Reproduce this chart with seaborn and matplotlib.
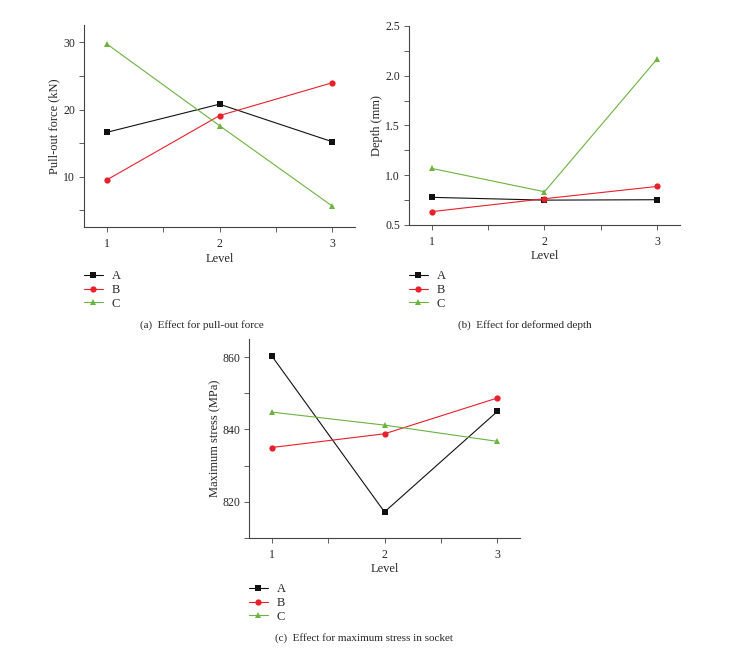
import pandas as pd
import numpy as np
import matplotlib
matplotlib.use('Agg')
import matplotlib.pyplot as plt
from matplotlib.ticker import AutoMinorLocator
import seaborn as sns

# -----------------------------------------------------------------------------
# Données (effet des facteurs A, B, C par niveau)
# -----------------------------------------------------------------------------
levels = [1, 2, 3]
factors = ['A', 'B', 'C']

pull_A = [16.6, 20.8, 15.2]
pull_B = [9.5, 19.1, 24.0]
pull_C = [29.8, 17.6, 5.6]

depth_A = [0.778, 0.750, 0.754]
depth_B = [0.634, 0.764, 0.888]
depth_C = [1.069, 0.834, 2.172]

stress_A = [860.4, 817.2, 845.0]
stress_B = [835.0, 838.8, 848.7]
stress_C = [844.8, 841.2, 836.7]

colors = {'A': '#111111', 'B': '#e8202a', 'C': '#6cb33f'}
markers = {'A': 's', 'B': 'o', 'C': '^'}


def to_long(a, b, c):
    rows = []
    for name, vals in zip(factors, [a, b, c]):
        for lv, v in zip(levels, vals):
            rows.append({'Level': lv, 'value': v, 'factor': name})
    return pd.DataFrame(rows)


sns.set_style('ticks')
plt.rcParams['font.family'] = ['Liberation Serif', 'DejaVu Serif']
plt.rcParams['xtick.direction'] = 'out'
plt.rcParams['ytick.direction'] = 'out'

W, H = 734, 651
fig = plt.figure(figsize=(W / 100, H / 100), dpi=100)


def px_axes(left, top, right, bottom):
    return fig.add_axes([left / W, 1 - bottom / H, (right - left) / W, (bottom - top) / H])


def draw_panel(ax, df, ylim, yticks, ylabel, ylab_x, leg_xy, caption, cap_xy):
    sns.lineplot(data=df, x='Level', y='value', hue='factor', style='factor',
                 palette=colors, markers=markers, dashes=False, ax=ax,
                 linewidth=0.8, markersize=4.5, markeredgewidth=0)
    ax.set_xlim(0.8, 3.2)
    ax.set_ylim(*ylim)
    ax.set_xticks(levels)
    ax.set_yticks(yticks)
    ax.xaxis.set_minor_locator(AutoMinorLocator(2))
    ax.yaxis.set_minor_locator(AutoMinorLocator(2))
    ax.tick_params(which='both', length=3.5, width=0.6, color='#444444',
                   labelsize=8.5, pad=3)
    ax.tick_params(axis='x', pad=4.5)
    for s in ['left', 'bottom']:
        ax.spines[s].set_linewidth(0.8)
        ax.spines[s].set_color('#444444')
    sns.despine(ax=ax)
    ax.set_xlabel('Level', fontsize=9)
    ax.set_ylabel(ylabel, fontsize=9)
    ax.xaxis.set_label_coords(0.5, -0.128)
    ax.yaxis.set_label_coords(ylab_x, 0.5)
    handles, labels = ax.get_legend_handles_labels()
    ax.legend(handles, labels, loc='upper left', frameon=False,
              bbox_to_anchor=(leg_xy[0] / W, 1 - leg_xy[1] / H),
              bbox_transform=fig.transFigure, borderaxespad=0, borderpad=0,
              fontsize=9, handlelength=1.5, handletextpad=0.7, labelspacing=0.15)
    fig.text(cap_xy[0] / W, 1 - cap_xy[1] / H, caption, ha='center', va='center',
             fontsize=8)


ax_a = px_axes(84, 25, 355, 227)
draw_panel(ax_a, to_long(pull_A, pull_B, pull_C), (2.5, 32.6), [10, 20, 30],
           'Pull-out force (kN)', -0.088, (84, 270), '(a)  Effect for pull-out force', (202, 325))

ax_b = px_axes(409, 26, 680, 225)
draw_panel(ax_b, to_long(depth_A, depth_B, depth_C), (0.5, 2.5), [0.5, 1.0, 1.5, 2.0, 2.5],
           'Depth (mm)', -0.095, (409, 270), '(b)  Effect for deformed depth', (525, 325))

ax_c = px_axes(249, 339, 520, 538)
draw_panel(ax_c, to_long(stress_A, stress_B, stress_C), (810, 865), [820, 840, 860],
           'Maximum stress (MPa)', -0.103, (249, 583), '(c)  Effect for maximum stress in socket', (364, 638))

fig.savefig('out.png', dpi=100)
